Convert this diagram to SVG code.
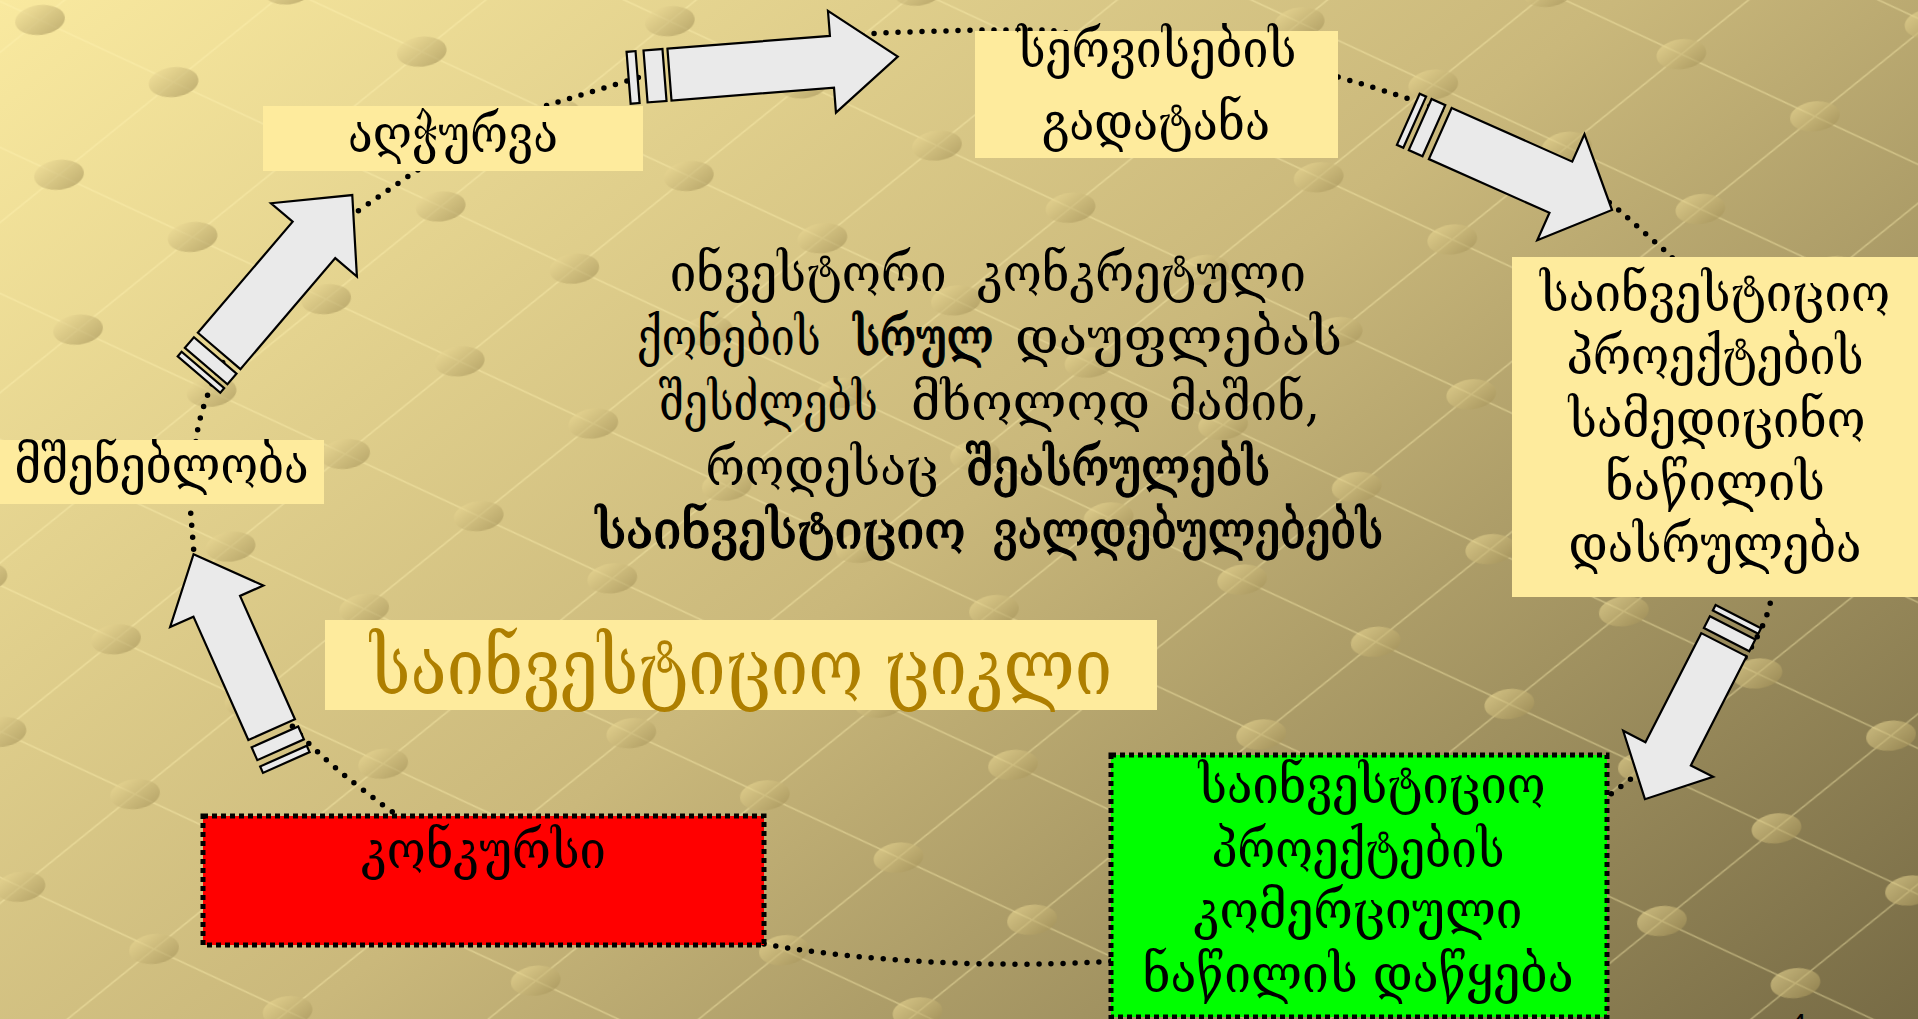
<svg xmlns="http://www.w3.org/2000/svg" width="1918" height="1019" viewBox="0 0 1918 1019">
<defs>
  <linearGradient id="bg" gradientUnits="userSpaceOnUse" x1="0" y1="0" x2="1209" y2="1565">
    <stop offset="0" stop-color="#F9E99F"/>
    <stop offset="0.5" stop-color="#CAB87B"/>
    <stop offset="1" stop-color="#776B45"/>
  </linearGradient>
  <linearGradient id="dotg" x1="0" y1="0" x2="1" y2="1">
    <stop offset="0" stop-color="#F4E29C"/>
    <stop offset="1" stop-color="#9C8A52"/>
  </linearGradient>
  <pattern id="grid" patternUnits="userSpaceOnUse" width="250" height="156" patternTransform="translate(40,20) rotate(-7)">
    <path d="M0,0 L250,156 M250,0 L0,156" stroke="#FFF2B2" stroke-opacity="0.4" stroke-width="1.5" fill="none"/>
    <g fill="url(#dotg)" fill-opacity="0.6">
      <ellipse cx="0" cy="0" rx="25" ry="15"/>
      <ellipse cx="250" cy="0" rx="25" ry="15"/>
      <ellipse cx="0" cy="156" rx="25" ry="15"/>
      <ellipse cx="250" cy="156" rx="25" ry="15"/>
      <ellipse cx="125" cy="78" rx="25" ry="15"/>
    </g>
  </pattern>
  <style>
    .box { fill:#FEEB9D; }
    .lbl { font-family:"DejaVu Serif","DejaVu Sans",sans-serif; font-size:52px; fill:#000; text-anchor:middle; }
    .ctx { font-family:"DejaVu Serif","DejaVu Sans",sans-serif; font-size:52px; fill:#000; }
    .b { stroke:#000; stroke-width:1.3px; }
    .title { font-family:"DejaVu Serif","DejaVu Sans",sans-serif; font-size:78px; fill:#AE7F00; text-anchor:middle; }
    .dots { fill:none; stroke:#000; stroke-width:5.5; stroke-linecap:round; stroke-linejoin:round; stroke-dasharray:0 12; }
    .arr { fill:#EAEAEA; stroke:#000; stroke-width:2.2; stroke-linejoin:miter; }
    .dashed { stroke:#000; stroke-width:5; stroke-dasharray:5 4; }
  </style>
</defs>

<rect x="0" y="0" width="1918" height="1019" fill="url(#bg)"/>
<rect x="0" y="0" width="1918" height="1019" fill="url(#grid)"/>

<g id="connectors">
  <path class="dots" d="M764,944 C900,968 1050,966 1111,961 L1607,797 L1640,772 C1690,730 1745,670 1766,618 L1772,597 L1672,257 L1612,204 L1447,113 C1420,102 1380,89 1338,77 L1050,30 L975,30 L877,33 L669,68 L545,106 L416,171 L355,213 L227,355 C212,380 200,410 196,440 L190,504 L194,554 C220,620 260,690 293,727 C320,757 355,785 398,816 Z"/>
  <g id="arrow-1" transform="translate(286.3,762.5) rotate(-114)">
    <rect class="arr" x="0" y="-25.5" width="7" height="51"/>
    <rect class="arr" x="14" y="-25.5" width="14" height="51"/>
    <polygon class="arr" points="36,-25.5 171,-25.5 171,-51 228,0 171,51 171,25.5 36,25.5"/>
  </g>
  <g id="arrow-2" transform="translate(199,374.5) rotate(-49.5)">
    <rect class="arr" x="0" y="-28" width="6" height="56"/>
    <rect class="arr" x="11" y="-28" width="14" height="56"/>
    <polygon class="arr" points="31,-28 177,-28 177,-56.5 236,0 177,56.5 177,28 31,28"/>
  </g>
  <g id="arrow-3" transform="translate(628.6,77.8) rotate(-4.5)">
    <rect class="arr" x="0" y="-26" width="9" height="52"/>
    <rect class="arr" x="17" y="-26" width="19" height="52"/>
    <polygon class="arr" points="41,-26 204,-26 204,-51 270,0 204,51 204,26 41,26"/>
  </g>
  <g id="arrow-4" transform="translate(1408.3,119.3) rotate(24)">
    <rect class="arr" x="0" y="-28" width="7" height="56"/>
    <rect class="arr" x="13" y="-28" width="15" height="56"/>
    <polygon class="arr" points="35,-28 167,-28 167,-58 223,0 167,58 167,28 35,28"/>
  </g>
  <g id="arrow-5" transform="translate(1738.3,616.7) rotate(117.1)">
    <rect class="arr" x="0" y="-25.5" width="6" height="51"/>
    <rect class="arr" x="12.5" y="-25.5" width="13.2" height="51"/>
    <polygon class="arr" points="31.5,-25.5 154,-25.5 154,-50.5 205,0 154,50.5 154,25.5 31.5,25.5"/>
  </g>
</g>

<g id="node-aghchurva">
  <rect class="box" x="263" y="106" width="380" height="65"/>
  <text class="lbl" x="453" y="152" textLength="210" lengthAdjust="spacingAndGlyphs">აღჭურვა</text>
</g>

<g id="node-servisebi">
  <rect class="box" x="975" y="31" width="363" height="127"/>
  <text class="lbl" x="1157" y="67" textLength="279" lengthAdjust="spacingAndGlyphs">სერვისების</text>
  <text class="lbl" x="1156" y="140" textLength="228" lengthAdjust="spacingAndGlyphs">გადატანა</text>
</g>

<g id="node-medical">
  <rect class="box" x="1512" y="257" width="406" height="340"/>
  <text class="lbl" x="1715" y="311" textLength="350" lengthAdjust="spacingAndGlyphs">საინვესტიციო</text>
  <text class="lbl" x="1715" y="374" textLength="297" lengthAdjust="spacingAndGlyphs">პროექტების</text>
  <text class="lbl" x="1717" y="437" textLength="297" lengthAdjust="spacingAndGlyphs">სამედიცინო</text>
  <text class="lbl" x="1715" y="500" textLength="220" lengthAdjust="spacingAndGlyphs">ნაწილის</text>
  <text class="lbl" x="1715" y="562" textLength="293" lengthAdjust="spacingAndGlyphs">დასრულება</text>
</g>

<g id="node-mshenebloba">
  <rect class="box" x="0" y="440" width="324" height="64"/>
  <text class="lbl" x="161.5" y="483" textLength="294" lengthAdjust="spacingAndGlyphs">მშენებლობა</text>
</g>

<g id="node-title">
  <rect class="box" x="325" y="620" width="832" height="90"/>
  <text class="title" x="741" y="694" textLength="742" lengthAdjust="spacingAndGlyphs">საინვესტიციო ციკლი</text>
</g>

<g id="node-konkursi">
  <rect class="dashed" x="203" y="816" width="561" height="129" fill="#FF0000"/>
  <text class="lbl" x="483.5" y="868" textLength="245" lengthAdjust="spacingAndGlyphs">კონკურსი</text>
</g>

<g id="node-commercial">
  <rect class="dashed" x="1111" y="755" width="496" height="262" fill="#00FF00"/>
  <text class="lbl" x="1372" y="803" textLength="347" lengthAdjust="spacingAndGlyphs">საინვესტიციო</text>
  <text class="lbl" x="1358" y="867" textLength="293" lengthAdjust="spacingAndGlyphs">პროექტების</text>
  <text class="lbl" x="1358" y="928" textLength="329" lengthAdjust="spacingAndGlyphs">კომერციული</text>
  <text class="lbl" x="1358" y="992" textLength="431" lengthAdjust="spacingAndGlyphs">ნაწილის დაწყება</text>
</g>

<g id="node-statement">
  <text class="ctx" y="291"><tspan x="669.7" textLength="277" lengthAdjust="spacingAndGlyphs">ინვესტორი</tspan> <tspan x="977" textLength="329" lengthAdjust="spacingAndGlyphs">კონკრეტული</tspan></text>
  <text class="ctx" y="355"><tspan x="636.8" textLength="184" lengthAdjust="spacingAndGlyphs">ქონების</tspan> <tspan class="b" x="853.5" textLength="140" lengthAdjust="spacingAndGlyphs">სრულ</tspan> <tspan x="1015" textLength="327" lengthAdjust="spacingAndGlyphs">დაუფლებას</tspan></text>
  <text class="ctx" y="420"><tspan x="658.7" textLength="219" lengthAdjust="spacingAndGlyphs">შესძლებს</tspan> <tspan x="911" textLength="239" lengthAdjust="spacingAndGlyphs">მხოლოდ</tspan> <tspan x="1169" textLength="151" lengthAdjust="spacingAndGlyphs">მაშინ,</tspan></text>
  <text class="ctx" y="485"><tspan x="705.4" textLength="233" lengthAdjust="spacingAndGlyphs">როდესაც</tspan> <tspan class="b" x="966" textLength="304" lengthAdjust="spacingAndGlyphs">შეასრულებს</tspan></text>
  <text class="ctx b" y="548"><tspan x="595.7" textLength="370" lengthAdjust="spacingAndGlyphs">საინვესტიციო</tspan> <tspan x="993" textLength="390" lengthAdjust="spacingAndGlyphs">ვალდებულებებს</tspan></text>
</g>

<g id="slide-number">
  <text x="1790" y="1034" font-family="Liberation Sans, sans-serif" font-size="30" fill="#000">4</text>
</g>
</svg>
